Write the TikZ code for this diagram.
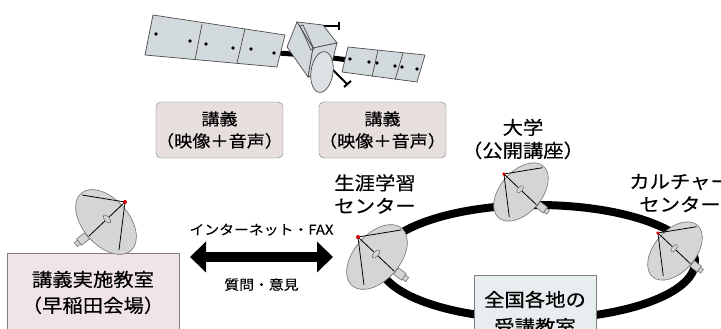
\documentclass[tikz,border=0pt]{standalone}
\usepackage{fontspec}
\setmainfont{Noto Sans CJK JP}[FakeStretch=1.1, FakeBold=0.4]
\usetikzlibrary{arrows.meta}

\definecolor{panelblue}{HTML}{D3DADD}
\definecolor{dishgray}{HTML}{D5D5D5}
\definecolor{boxgray}{HTML}{E6DFDD}
\definecolor{roompink}{HTML}{F1E4E6}
\definecolor{siteblue}{HTML}{E8EDEF}
\definecolor{edgegray}{HTML}{7F7F7F}

\tikzset{
    lecbox/.style={draw=edgegray, fill=boxgray, rounded corners=5pt, inner xsep=0pt,
        minimum width=125pt, minimum height=56pt, align=center,
        font=\fontsize{16.5}{22}\selectfont},
    placebox/.style={draw=edgegray, fill=#1, align=center, font=\fontsize{18.5}{26}\selectfont},
    sitelabel/.style={align=center, font=\fontsize{18.5}{23}\selectfont},
    netlabel/.style={font=\fontsize{13.5}{16}\selectfont},
    satline/.style={draw=black!70, line width=0.7pt},
    dishline/.style={draw=black!55, line width=0.6pt},
    pics/dish/.style={code={
        % dudukan
        \begin{scope}[shift={(23,17)},rotate=-38]
            \draw[dishline,fill=dishgray] (-5,-4) rectangle (5,4);
            \draw[dishline,fill=dishgray] (5,-2.5) rectangle (9,2.5);
        \end{scope}
        % piringan
        \draw[dishline,fill=dishgray] (0,0) ellipse[x radius=23,y radius=38,rotate=-41];
        \draw[black,line width=0.8pt] (-19,-20) -- (24,-27) (-19,-20) -- (-13,28) (-19,-20) -- (17,14);
        \draw[dishline,fill=dishgray] (-1,-3) ellipse[x radius=2.5,y radius=5,rotate=-41];
        \fill[red!85!black] (-19,-20) circle (2pt);
    }}
}

\begin{document}
\begin{tikzpicture}[x=1pt,y=-1pt]
    \clip (0,0) rectangle (721,329);

    % Satelit
    \draw[line width=5pt] (278,53) -- (305,55);
    \draw[satline,fill=panelblue] (153,15) -- (285,35) -- (277,67) -- (145,55) -- cycle;
    \draw[satline] (202,24) -- (195,60);
    \draw[satline] (245,29) -- (237,63);
    \draw[line width=5pt] (333,58) -- (348,60);
    \draw[satline,fill=panelblue] (348,47) -- (425,55) -- (417,82) -- (342,72) -- cycle;
    \draw[satline] (378,50) -- (372,77);
    \draw[satline] (403,53) -- (395,80);
    \foreach \p in {(156,34),(190,41),(206,44),(233,48),(251,49),(274,53),
                    (350,59),(369,62),(377,63),(395,66),(402,67),(417,69)}
        \fill \p circle (1.8pt);
    \draw[line width=2pt] (323,26) -- (339,26) (339,22) -- (339,30);
    \draw[line width=2pt] (333,70) -- (347,84) (344,87) -- (351,81);
    \draw[satline,fill=panelblue] (297,22) -- (323,25) -- (337,43) -- (313,48) -- cycle;
    \draw[satline,fill=panelblue] (297,22) -- (287,47) -- (308,77) -- (313,48) -- cycle;
    \draw[satline,fill=panelblue] (313,48) -- (337,43) -- (330,70) -- (308,77) -- cycle;
    \draw[satline] (300,26) -- (311,50) -- (314,49) -- (303,25) -- cycle;
    \draw[satline,fill=panelblue!80!white] (322,72) ellipse[x radius=11,y radius=20.5,rotate=-8];

    % Kotak materi kuliah
    \node[lecbox] (lec1) at (219.5,130) {講義\\（映像＋音声）};
    \node[lecbox] (lec2) at (382.5,130) {講義\\（映像＋音声）};

    % Cincin jaringan
    \draw[line width=8pt] (537,262) ellipse[x radius=158,y radius=57];

    % Ruang kuliah dan tempat penerima
    \node[placebox=roompink, minimum width=172pt, minimum height=79pt] (room) at (93,292.5)
        {講義実施教室\\（早稲田会場）};
    \node[placebox=siteblue, minimum width=122pt, minimum height=76pt,
          font=\fontsize{18.5}{27}\selectfont] (site) at (535,313) {全国各地の\\受講教室};

    % Antena parabola
    \pic[xscale=-1] at (106,222) {dish};
    \pic at (377,257) {dish};
    \pic[scale=0.9] at (521,192) {dish};
    \pic[scale=0.9] at (675,251) {dish};

    % Label lokasi
    \node[sitelabel] (lifelong) at (375,194) {生涯学習\\センター};
    \node[sitelabel] (univ) at (523,139) {大学\\（公開講座）};
    \node[sitelabel] (culture) at (680,193) {カルチャー\\センター};

    % Panah komunikasi dua arah
    \coordinate (netL) at (190,257);
    \coordinate (netR) at (333,257);
    \draw[line width=10pt, {Triangle[length=16pt,width=30pt]}-{Triangle[length=16pt,width=30pt]}]
        (netL) -- node[netlabel, above=13pt] (net) {インターネット・FAX}
                  node[netlabel, below=13pt] (ask) {質問・意見} (netR);
\end{tikzpicture}
\end{document}
